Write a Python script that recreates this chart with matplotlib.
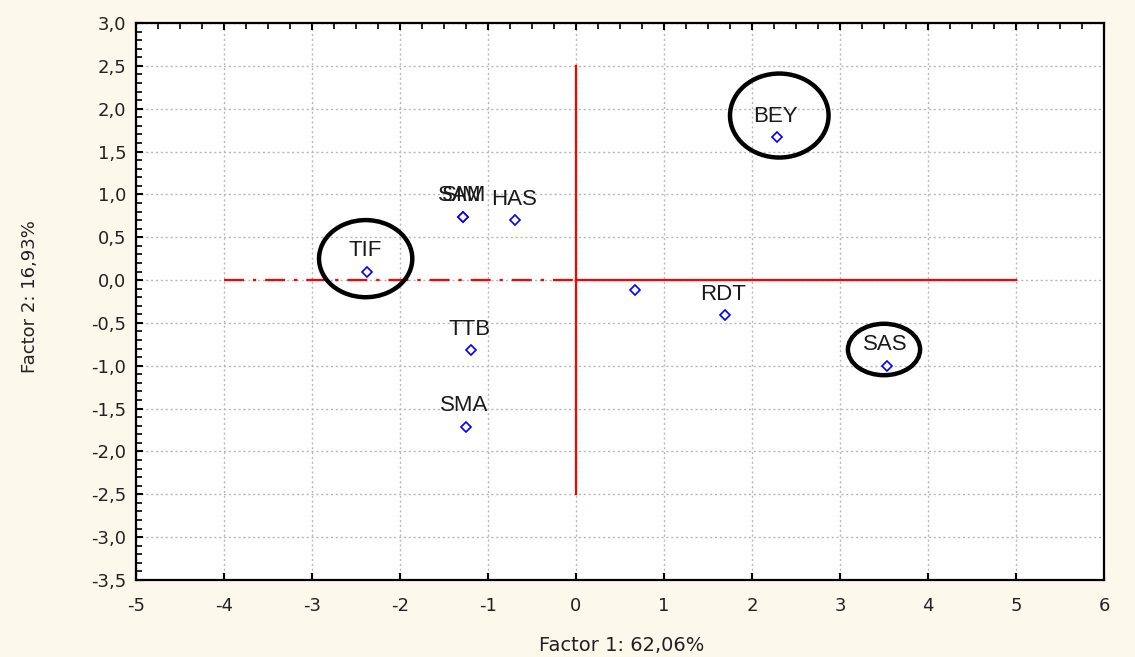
import matplotlib
matplotlib.use("Agg")
import matplotlib.pyplot as plt
from matplotlib.patches import Ellipse
from matplotlib.ticker import FixedLocator, MultipleLocator, FuncFormatter

plt.rcParams['font.family'] = ['Liberation Sans', 'DejaVu Sans']

# Factor scores of the sites on the first two principal axes
labels = ["BEY", "SAS", "RDT", "", "HAS", "SAM", "SIM", "TIF", "TTB", "SMA"]
factor1 = [2.28, 3.53, 1.69, 0.67, -0.69, -1.28, -1.28, -2.38, -1.19, -1.25]
factor2 = [1.67, -1.00, -0.41, -0.12, 0.70, 0.74, 0.74, 0.10, -0.82, -1.71]

# Highlighted groups (centre x, centre y, width, height)
highlight_names = ["TIF", "BEY", "SAS"]
highlight_cx = [-2.39, 2.31, 3.50]
highlight_cy = [0.25, 1.92, -0.81]
highlight_w = [1.06, 1.12, 0.82]
highlight_h = [0.90, 0.98, 0.60]

xticks = list(range(-5, 7))
yticks = [3.0, 2.5, 2.0, 1.5, 1.0, 0.5, 0.0, -0.5, -1.0, -1.5, -2.0, -2.5, -3.0, -3.5]

bg = "#fdf8ec"
fig = plt.figure(figsize=(11.35, 6.57), dpi=100, facecolor=bg)
ax = fig.add_axes([0.1198, 0.1172, 0.8529, 0.8478])
ax.set_facecolor("white")

ax.set_xlim(-5, 6)
ax.set_ylim(-3.5, 3.0)

ax.xaxis.set_major_locator(FixedLocator(xticks))
ax.yaxis.set_major_locator(FixedLocator(yticks))
ax.yaxis.set_minor_locator(MultipleLocator(0.1))
ax.xaxis.set_minor_locator(MultipleLocator(0.25))
ax.xaxis.set_major_formatter(FuncFormatter(lambda v, p: f"{v:.0f}"))
ax.yaxis.set_major_formatter(FuncFormatter(lambda v, p: f"{v:.1f}".replace(".", ",")))

ax.grid(True, which="major", color="#b8b8b8", linestyle=(0, (1.5, 2.0)), linewidth=1.0)
ax.set_axisbelow(True)

ax.tick_params(axis="both", which="major", direction="in", length=5, width=1.5,
               colors="black", top=True, right=False)
ax.tick_params(axis="x", which="major", pad=12)
ax.tick_params(axis="y", which="major", pad=7)
ax.tick_params(axis="y", which="minor", direction="in", length=4, width=1.2, left=True, right=False)
ax.tick_params(axis="x", which="minor", direction="in", length=4, width=1.2, top=True, bottom=False)
for lab in ax.get_yticklabels() + ax.get_xticklabels():
    lab.set_color("#222222")
    lab.set_fontfamily("DejaVu Sans")
    lab.set_fontsize(13)

for s in ax.spines.values():
    s.set_linewidth(1.6)
    s.set_color("black")

# Reference axes through the origin
ax.plot([-4, 0], [0, 0], color="red", linewidth=1.6, linestyle=(0, (9, 4, 1.5, 4)), zorder=2)
ax.plot([0, 5], [0, 0], color="red", linewidth=1.6, zorder=2)
ax.plot([0, 0], [-2.5, 2.5], color="red", linewidth=1.6, zorder=2)

# Site scores
ax.plot(factor1, factor2, linestyle="none", marker="D", markersize=5.5,
        markerfacecolor="white", markeredgecolor="blue", markeredgewidth=1.2, zorder=4)
for name, x, y in zip(labels, factor1, factor2):
    if name:
        ax.annotate(name, (x, y), xytext=(-1, 15), textcoords="offset points",
                    ha="center", va="center", fontsize=16, color="#1a1a1a", zorder=5)

# Highlight rings
for cx, cy, w, h in zip(highlight_cx, highlight_cy, highlight_w, highlight_h):
    ax.add_patch(Ellipse((cx, cy), w, h, fill=False, edgecolor="black", linewidth=3.2, zorder=6))

fig.text(0.548, 0.018, "Factor 1: 62,06%", ha="center", va="center", fontsize=14,
         color="#222222", family="DejaVu Sans")
fig.text(0.026, 0.548, "Factor 2: 16,93%", ha="center", va="center", rotation=90, fontsize=13,
         color="#222222", family="DejaVu Sans")

fig.savefig("out.png", dpi=100, facecolor=bg)
